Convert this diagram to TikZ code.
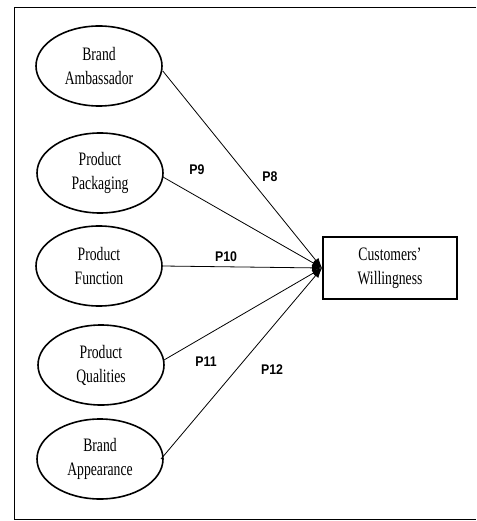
\documentclass[tikz,border=0pt]{standalone}
\usepackage{fontspec}
\setmainfont{Liberation Serif}
\newfontfamily\nodefont[FakeStretch=0.72]{Liberation Serif}
\newfontfamily\labelfont[FakeStretch=0.88]{Liberation Sans}
\usetikzlibrary{shapes.geometric,arrows.meta}
\begin{document}
\begin{tikzpicture}[x=1pt,y=-1pt,
  construct/.style={ellipse,draw,line width=1.6pt,minimum width=126pt,minimum height=80pt,
    inner sep=0pt,align=center,font=\nodefont\fontsize{19}{24}\selectfont},
  outcome/.style={rectangle,draw,line width=1.9pt,minimum width=134pt,minimum height=62pt,
    inner sep=0pt,align=center,font=\nodefont\fontsize{19}{24}\selectfont},
  path/.style={line width=0.8pt,-{Latex[length=10pt,width=7pt]}},
  plabel/.style={font=\labelfont\bfseries\fontsize{14}{14}\selectfont,inner sep=0pt}]
  \useasboundingbox (0,0) rectangle (476,521);
  % outer frame, open on the right
  \draw[line width=1.4pt] (476,7.5) -- (14.5,7.5) -- (14.5,519.5) -- (476,519.5);

  % predictors
  \node[construct] (amb) at (99,66)  {Brand\\Ambassador};
  \node[construct] (pack) at (100,173) {Product\\Packaging};
  \node[construct] (func) at (99,266) {Product\\Function};
  \node[construct] (qual) at (101,365) {Product\\Qualities};
  \node[construct] (app) at (100,459) {Brand\\Appearance};

  % outcome
  \node[outcome] (will) at (390,268) {Customers’\\Willingness};
  \coordinate (tip) at (will.west);

  % paths
  \draw[path] (amb.east) ++(0,5) -- (tip);
  \draw[path] (pack) ++(63,4) -- (tip);
  \draw[path] (func.east) -- (tip);
  \draw[path] (qual) ++(63,-5) -- (tip);
  \draw[path] (app) ++(61,0) -- (tip);

  % path labels
  \node[plabel] (p8) at (270,177) {P8};
  \node[plabel] (p9) at (197,170) {P9};
  \node[plabel] (p10) at (226,257) {P10};
  \node[plabel] (p11) at (206,362) {P11};
  \node[plabel] (p12) at (272,370) {P12};
\end{tikzpicture}
\end{document}
